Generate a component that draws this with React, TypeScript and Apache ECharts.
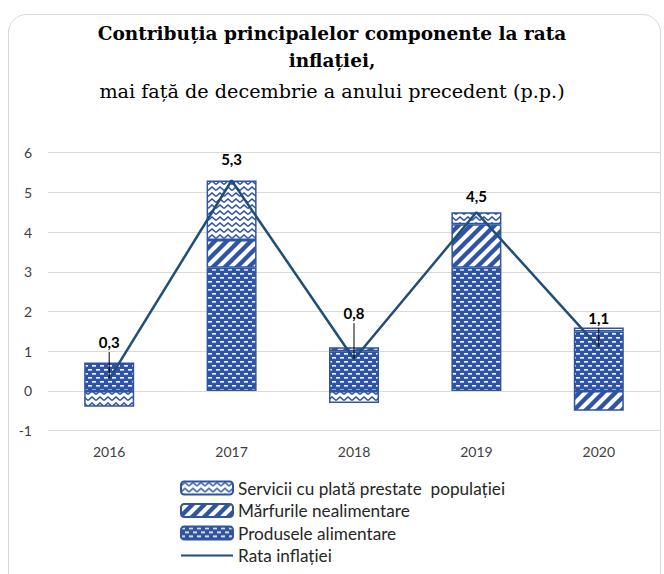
import React, { useEffect, useRef } from "react";
import * as echarts from "echarts";

const years = ["2016", "2017", "2018", "2019", "2020"];
const food = [0.7, 3.1, 1.0, 3.1, 1.5];
const nonFood = [0, 0.7, 0.1, 1.1, -0.5];
const services = [-0.4, 1.5, -0.3, 0.3, 0.1];
const rate = [0.3, 5.3, 0.8, 4.5, 1.1];

const seriesNames = [
  "Servicii cu plată prestate  populației",
  "Mărfurile nealimentare",
  "Produsele alimentare",
  "Rata inflației",
];

const labelOffsets = [37, 22, 46, 16, 29];
const leaderShown = [true, false, true, false, true];

const BLUE = "#2F54A1";
const LINE = "#1F4E79";

function makeCanvas(w: number, h: number, draw: (ctx: CanvasRenderingContext2D) => void) {
  const c = document.createElement("canvas");
  c.width = w;
  c.height = h;
  const ctx = c.getContext("2d")!;
  draw(ctx);
  return c;
}

function foodPattern() {
  const c = makeCanvas(8, 8, (ctx) => {
    ctx.fillStyle = BLUE;
    ctx.fillRect(0, 0, 8, 8);
    ctx.fillStyle = "#ffffff";
    ctx.fillRect(0, 1, 4, 1.6);
    ctx.fillRect(4, 5, 4, 1.6);
  });
  return { image: c, repeat: "repeat", imageWidth: 8, imageHeight: 8 };
}

function stripePattern() {
  const P = 12;
  const c = makeCanvas(P, P, (ctx) => {
    ctx.fillStyle = "#ffffff";
    ctx.fillRect(0, 0, P, P);
    ctx.strokeStyle = BLUE;
    ctx.lineWidth = 4.4;
    for (let k = -1; k <= 1; k++) {
      ctx.beginPath();
      ctx.moveTo(k * P - 2, P + 2);
      ctx.lineTo(k * P + P + 2, -2);
      ctx.stroke();
    }
  });
  return { image: c, repeat: "repeat", imageWidth: P, imageHeight: P };
}

function zigzagPattern() {
  const W = 8;
  const H = 6;
  const c = makeCanvas(W, H, (ctx) => {
    ctx.fillStyle = "#ffffff";
    ctx.fillRect(0, 0, W, H);
    ctx.strokeStyle = BLUE;
    ctx.lineWidth = 1.6;
    for (let k = -1; k <= 1; k++) {
      const dy = k * H;
      ctx.beginPath();
      ctx.moveTo(0, 4.5 + dy);
      ctx.lineTo(4, 1 + dy);
      ctx.lineTo(8, 4.5 + dy);
      ctx.stroke();
    }
  });
  return { image: c, repeat: "repeat", imageWidth: W, imageHeight: H };
}

export default function App() {
  const ref = useRef<HTMLDivElement>(null);

  useEffect(() => {
    if (!ref.current) return;
    const chart = echarts.init(ref.current, null, { renderer: "svg" });

    const barBase = {
      type: "bar",
      stack: "total",
      barWidth: 50,
      z: 2,
    };

    const option: any = {
      animation: false,
      backgroundColor: "#ffffff",
      textStyle: { fontFamily: "Lato" },
      title: [
        {
          text: "Contribuția principalelor componente la rata\ninflației,",
          left: "center",
          top: 19.5,
          padding: 0,
          textStyle: {
            fontFamily: "DejaVu Serif",
            fontWeight: "bold",
            fontSize: 18.5,
            lineHeight: 27,
            color: "#000000",
          },
        },
        {
          text: "mai față de decembrie a anului precedent (p.p.)",
          left: "center",
          top: 77.5,
          padding: 0,
          textStyle: {
            fontFamily: "DejaVu Serif",
            fontWeight: "normal",
            fontSize: 19.2,
            lineHeight: 27,
            color: "#000000",
          },
        },
      ],
      graphic: [
        {
          type: "rect",
          shape: { x: 8.5, y: 14.5, width: 652, height: 620, r: 18 },
          style: { fill: "none", stroke: "#D9D9D9", lineWidth: 1 },
          silent: true,
          z: -1,
        },
      ],
      grid: { left: 48, right: 4, top: 152.7, bottom: 143.3 },
      legend: {
        orient: "vertical",
        left: 180,
        top: 478,
        padding: 0,
        itemWidth: 52,
        itemHeight: 13,
        itemGap: 2.5,
        data: [
          seriesNames[0],
          seriesNames[1],
          seriesNames[2],
          {
            name: seriesNames[3],
            icon: "path://M0,0 M52,13 M0,5.5 L52,5.5 L52,7.5 L0,7.5 Z",
          },
        ],
        textStyle: {
          fontFamily: "Lato",
          fontSize: 17.2,
          lineHeight: 20,
          color: "#262626",
        },
      },
      xAxis: {
        type: "category",
        data: years,
        axisLine: { show: false, onZero: false },
        axisTick: { show: false },
        axisLabel: { fontFamily: "Lato", fontSize: 14, color: "#404040", margin: 14 },
      },
      yAxis: {
        type: "value",
        min: -1,
        max: 6,
        interval: 1,
        axisLine: { show: false },
        axisTick: { show: false },
        splitLine: { lineStyle: { color: "#D9D9D9", width: 1 } },
        axisLabel: { fontFamily: "Lato", fontSize: 14, color: "#404040", margin: 16 },
      },
      series: [
        {
          ...barBase,
          name: seriesNames[2],
          data: food,
          itemStyle: { color: foodPattern(), borderColor: BLUE, borderWidth: 1.5 },
        },
        {
          ...barBase,
          name: seriesNames[1],
          data: nonFood,
          itemStyle: { color: stripePattern(), borderColor: BLUE, borderWidth: 1.5 },
        },
        {
          ...barBase,
          name: seriesNames[0],
          data: services,
          itemStyle: { color: zigzagPattern(), borderColor: BLUE, borderWidth: 1.5 },
        },
        {
          type: "line",
          name: seriesNames[3],
          data: rate,
          symbol: "none",
          z: 5,
          lineStyle: { color: LINE, width: 2.5 },
          itemStyle: { color: LINE },
        },
        {
          type: "custom",
          name: "labels",
          z: 6,
          data: rate.map((v, i) => [i, v]),
          renderItem: (params: any, api: any) => {
            const i = params.dataIndex;
            const p = api.coord([api.value(0), api.value(1)]);
            const off = labelOffsets[i];
            const children: any[] = [
              {
                type: "text",
                x: p[0],
                y: p[1] - off,
                style: {
                  text: String(rate[i]).replace(".", ","),
                  textAlign: "center",
                  textVerticalAlign: "middle",
                  fontFamily: "Lato",
                  fontWeight: "bold",
                  fontSize: 15,
                  fill: "#000000",
                },
              },
            ];
            if (leaderShown[i]) {
              children.push({
                type: "line",
                shape: { x1: p[0], y1: p[1] - off + 10, x2: p[0], y2: p[1] - 1 },
                style: { stroke: "#000000", lineWidth: 1 },
              });
            }
            return { type: "group", children };
          },
        },
      ],
    };

    chart.setOption(option);
    return () => chart.dispose();
  }, []);

  return (
    <div
      ref={ref}
      style={{ position: "fixed", left: 0, top: 0, width: 664, height: 574 }}
    />
  );
}
